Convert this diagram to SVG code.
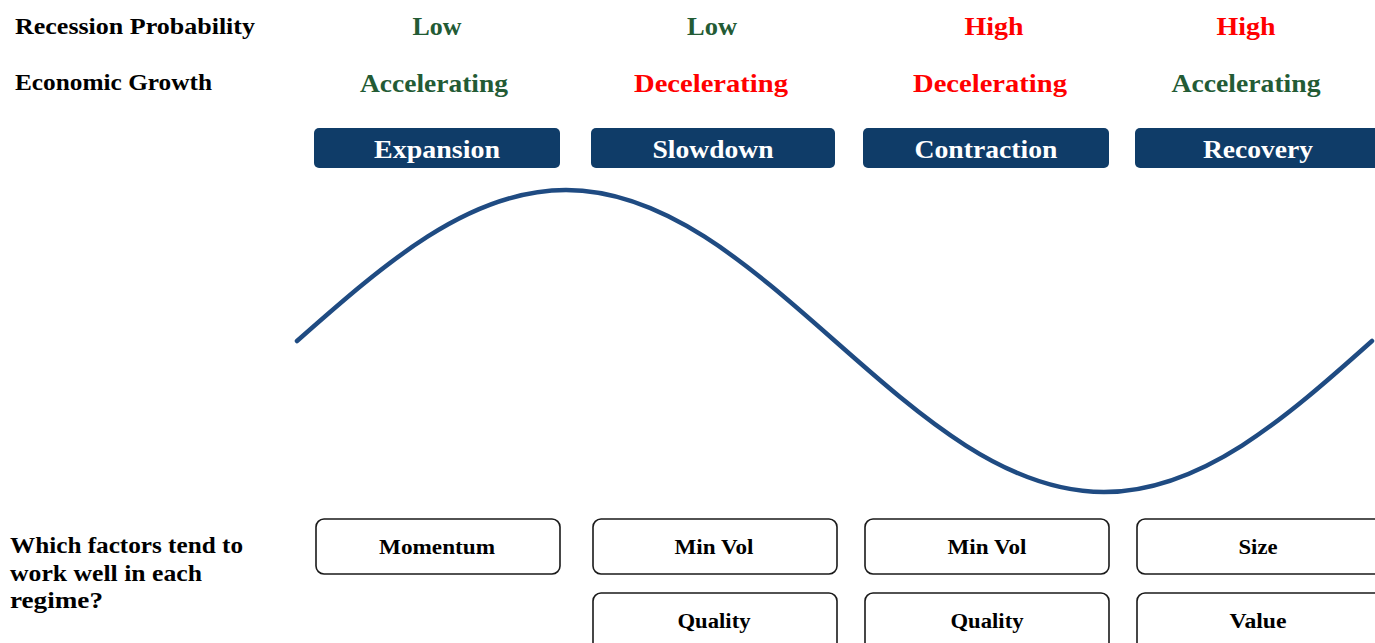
<svg xmlns="http://www.w3.org/2000/svg" width="1375" height="643" viewBox="0 0 1375 643">
  <style>
    text { font-family: "Liberation Serif", "Times New Roman", serif; font-weight: bold; }
    .hdr { font-size: 24px; fill: #000; }
    .val { font-size: 26px; text-anchor: middle; }
    .good { fill: #235b35; }
    .bad { fill: #ff0000; }
    .phase rect { fill: #0f3c68; }
    .phase text { fill: #fff; font-size: 26px; text-anchor: middle; }
    .factor rect { fill: #fff; stroke: #1a1a1a; stroke-width: 1.6; }
    .factor text { fill: #000; font-size: 20px; text-anchor: middle; }
    .q { font-size: 23px; fill: #000; }
    .wave { fill: none; stroke: #1f4b82; stroke-width: 4.5; stroke-linecap: round; stroke-linejoin: round; }
  </style>
  <rect width="1375" height="643" fill="#fff"/>

  <!-- row headings -->
  <g id="row-labels">
    <text class="hdr" x="15" y="34" textLength="240" lengthAdjust="spacingAndGlyphs">Recession Probability</text>
    <text class="hdr" x="15" y="90" textLength="197" lengthAdjust="spacingAndGlyphs">Economic Growth</text>
  </g>

  <!-- recession probability per regime -->
  <g id="probability">
    <text class="val good" x="437" y="35" textLength="49" lengthAdjust="spacingAndGlyphs">Low</text>
    <text class="val good" x="712" y="35" textLength="50" lengthAdjust="spacingAndGlyphs">Low</text>
    <text class="val bad" x="994" y="35" textLength="59" lengthAdjust="spacingAndGlyphs">High</text>
    <text class="val bad" x="1246" y="35" textLength="59" lengthAdjust="spacingAndGlyphs">High</text>
  </g>

  <!-- growth direction per regime -->
  <g id="growth">
    <text class="val good" x="434" y="92" textLength="148" lengthAdjust="spacingAndGlyphs">Accelerating</text>
    <text class="val bad" x="711" y="92" textLength="154" lengthAdjust="spacingAndGlyphs">Decelerating</text>
    <text class="val bad" x="990" y="92" textLength="154" lengthAdjust="spacingAndGlyphs">Decelerating</text>
    <text class="val good" x="1246" y="92" textLength="149" lengthAdjust="spacingAndGlyphs">Accelerating</text>
  </g>

  <!-- regime phases -->
  <g id="phase-expansion" class="phase">
    <rect x="314" y="128" width="246" height="40" rx="5"/>
    <text x="437" y="158" textLength="126" lengthAdjust="spacingAndGlyphs">Expansion</text>
  </g>
  <g id="phase-slowdown" class="phase">
    <rect x="591" y="128" width="244" height="40" rx="5"/>
    <text x="713" y="158" textLength="121" lengthAdjust="spacingAndGlyphs">Slowdown</text>
  </g>
  <g id="phase-contraction" class="phase">
    <rect x="863" y="128" width="246" height="40" rx="5"/>
    <text x="986" y="158" textLength="143" lengthAdjust="spacingAndGlyphs">Contraction</text>
  </g>
  <g id="phase-recovery" class="phase">
    <rect x="1135" y="128" width="250" height="40" rx="5"/>
    <text x="1258" y="158" textLength="110" lengthAdjust="spacingAndGlyphs">Recovery</text>
  </g>

  <!-- business cycle wave -->
  <g id="cycle">
    <path class="wave" d="M297,341 C384.7,263.6 468.6,190 566,190 C663.4,190 747.3,263.6 835,341 C922.7,418.4 1006.6,492 1104,492 C1201.4,492 1285.3,418.4 1372,341"/>
  </g>

  <!-- factor question -->
  <g id="question">
    <text class="q" x="10" y="553" textLength="233" lengthAdjust="spacingAndGlyphs">Which factors tend to</text>
    <text class="q" x="10" y="581" textLength="192" lengthAdjust="spacingAndGlyphs">work well in each</text>
    <text class="q" x="10" y="608" textLength="93" lengthAdjust="spacingAndGlyphs">regime?</text>
  </g>

  <!-- factors by regime -->
  <g id="factor-momentum" class="factor">
    <rect x="316" y="519" width="244" height="55" rx="8"/>
    <text x="437" y="554" textLength="116" lengthAdjust="spacingAndGlyphs">Momentum</text>
  </g>
  <g id="factor-minvol-slowdown" class="factor">
    <rect x="593" y="519" width="244" height="55" rx="8"/>
    <text x="714" y="554" textLength="79" lengthAdjust="spacingAndGlyphs">Min Vol</text>
  </g>
  <g id="factor-quality-slowdown" class="factor">
    <rect x="593" y="593" width="244" height="60" rx="8"/>
    <text x="714" y="628" textLength="73" lengthAdjust="spacingAndGlyphs">Quality</text>
  </g>
  <g id="factor-minvol-contraction" class="factor">
    <rect x="865" y="519" width="244" height="55" rx="8"/>
    <text x="987" y="554" textLength="79" lengthAdjust="spacingAndGlyphs">Min Vol</text>
  </g>
  <g id="factor-quality-contraction" class="factor">
    <rect x="865" y="593" width="244" height="60" rx="8"/>
    <text x="987" y="628" textLength="73" lengthAdjust="spacingAndGlyphs">Quality</text>
  </g>
  <g id="factor-size" class="factor">
    <rect x="1137" y="519" width="250" height="55" rx="8"/>
    <text x="1258" y="554" textLength="39" lengthAdjust="spacingAndGlyphs">Size</text>
  </g>
  <g id="factor-value" class="factor">
    <rect x="1137" y="593" width="250" height="60" rx="8"/>
    <text x="1258" y="628" textLength="57" lengthAdjust="spacingAndGlyphs">Value</text>
  </g>
</svg>
